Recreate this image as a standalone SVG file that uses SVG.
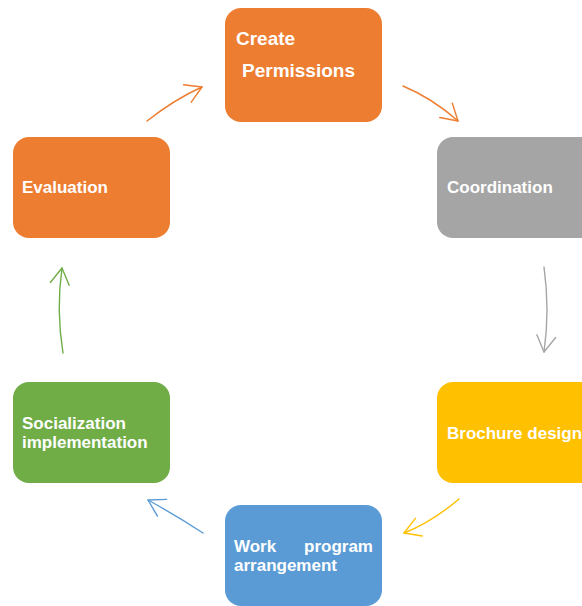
<svg xmlns="http://www.w3.org/2000/svg" width="582" height="606" viewBox="0 0 582 606">
<style>
.lbl{font-family:"Liberation Sans",Arial,sans-serif;font-weight:bold;font-size:17px;fill:#fff}
.big{font-size:19px}
.c{fill:none;stroke-width:1.4;stroke-linecap:round}
</style>
<defs>
<marker id="mo" markerUnits="userSpaceOnUse" markerWidth="24" markerHeight="24" refX="0" refY="0" viewBox="-20 -12 24 24" orient="auto" overflow="visible"><path d="M-16,-9.5 L0,0 L-16,9.5" fill="none" stroke="#ED7D31" stroke-width="1.4" stroke-linecap="round" stroke-linejoin="round"/></marker>
<marker id="mg" markerUnits="userSpaceOnUse" markerWidth="24" markerHeight="24" refX="0" refY="0" viewBox="-20 -12 24 24" orient="auto" overflow="visible"><path d="M-16,-9.5 L0,0 L-16,9.5" fill="none" stroke="#A5A5A5" stroke-width="1.4" stroke-linecap="round" stroke-linejoin="round"/></marker>
<marker id="my" markerUnits="userSpaceOnUse" markerWidth="24" markerHeight="24" refX="0" refY="0" viewBox="-20 -12 24 24" orient="auto" overflow="visible"><path d="M-16,-9.5 L0,0 L-16,9.5" fill="none" stroke="#FFC000" stroke-width="1.4" stroke-linecap="round" stroke-linejoin="round"/></marker>
<marker id="mb" markerUnits="userSpaceOnUse" markerWidth="24" markerHeight="24" refX="0" refY="0" viewBox="-20 -12 24 24" orient="auto" overflow="visible"><path d="M-16,-9.5 L0,0 L-16,9.5" fill="none" stroke="#5B9BD5" stroke-width="1.4" stroke-linecap="round" stroke-linejoin="round"/></marker>
<marker id="mgr" markerUnits="userSpaceOnUse" markerWidth="24" markerHeight="24" refX="0" refY="0" viewBox="-20 -12 24 24" orient="auto" overflow="visible"><path d="M-16,-9.5 L0,0 L-16,9.5" fill="none" stroke="#70AD47" stroke-width="1.4" stroke-linecap="round" stroke-linejoin="round"/></marker>
</defs>
<rect width="582" height="606" fill="#fff"/>
<g id="create-permissions">
<rect x="225" y="8" width="157" height="114" rx="16" fill="#ED7D31"/>
<text class="lbl big" x="236" y="45">Create</text>
<text class="lbl big" x="242" y="77">Permissions</text>
</g>
<g id="coordination">
<rect x="437" y="137" width="160" height="101" rx="16" fill="#A5A5A5"/>
<text class="lbl" x="447" y="193">Coordination</text>
</g>
<g id="brochure-design">
<rect x="437" y="382" width="160" height="101" rx="16" fill="#FFC000"/>
<text class="lbl" x="447" y="439">Brochure design</text>
</g>
<g id="work-program">
<rect x="225" y="505" width="157" height="101" rx="16" fill="#5B9BD5"/>
<text class="lbl" x="234" y="552">Work</text>
<text class="lbl" x="373" y="552" text-anchor="end">program</text>
<text class="lbl" x="234" y="571">arrangement</text>
</g>
<g id="socialization">
<rect x="13" y="382" width="157" height="101" rx="16" fill="#70AD47"/>
<text class="lbl" x="22" y="429">Socialization</text>
<text class="lbl" x="22" y="448">implementation</text>
</g>
<g id="evaluation">
<rect x="13" y="137" width="157" height="101" rx="16" fill="#ED7D31"/>
<text class="lbl" x="22" y="193">Evaluation</text>
</g>
<g id="connectors">
<path class="c" d="M403,86 Q432,98 458,121" stroke="#ED7D31" marker-end="url(#mo)"/>
<path class="c" d="M544,267 Q550,310 544,352" stroke="#A5A5A5" marker-end="url(#mg)"/>
<path class="c" d="M459,499 Q432,522 404,533" stroke="#FFC000" marker-end="url(#my)"/>
<path class="c" d="M203,533 Q177,516 148,500" stroke="#5B9BD5" marker-end="url(#mb)"/>
<path class="c" d="M63,353 Q56,310 62,268" stroke="#70AD47" marker-end="url(#mgr)"/>
<path class="c" d="M147,121 Q175,99 202,87" stroke="#ED7D31" marker-end="url(#mo)"/>
</g>
</svg>
